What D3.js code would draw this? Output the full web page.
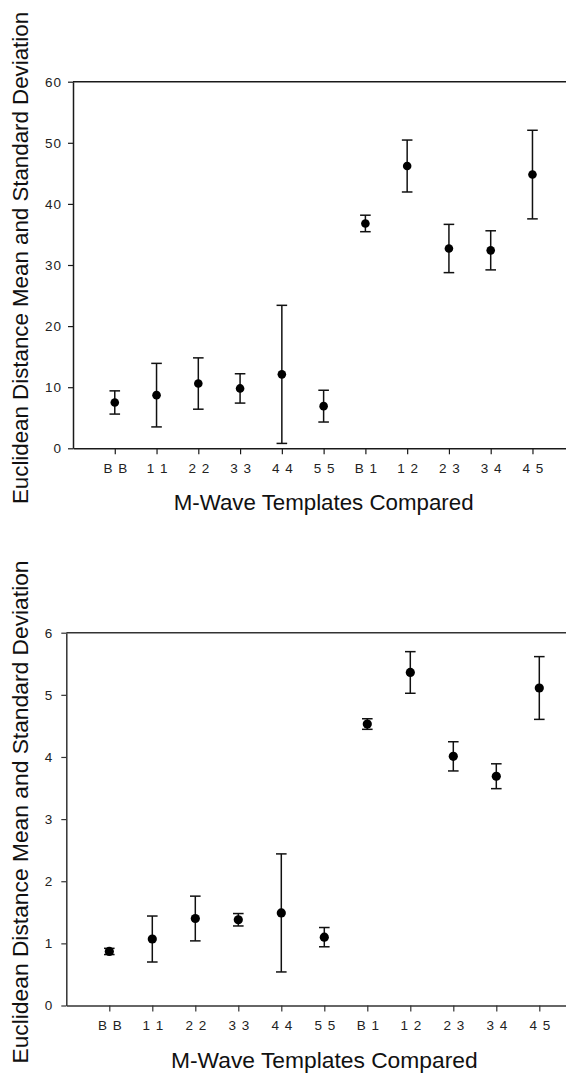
<!DOCTYPE html>
<html>
<head>
<meta charset="utf-8">
<script src="https://cdn.jsdelivr.net/npm/d3@7"></script>
<style>
  html, body { margin: 0; padding: 0; background: #fff; }
  svg { display: block; }
  text { font-family: Arial, "Liberation Sans", sans-serif; }
</style>
</head>
<body>
<svg id="chart" width="566" height="1074"></svg>
<script>
// ---- data ----
const categories = ["B B", "1 1", "2 2", "3 3", "4 4", "5 5", "B 1", "1 2", "2 3", "3 4", "4 5"];
const topMeans = [7.5, 8.7, 10.6, 9.8, 12.1, 6.9, 36.8, 46.2, 32.7, 32.4, 44.8];
const topSD = [1.9, 5.2, 4.2, 2.4, 11.3, 2.6, 1.35, 4.25, 3.95, 3.2, 7.25];
const bottomMeans = [0.87, 1.07, 1.40, 1.38, 1.49, 1.10, 4.53, 5.36, 4.01, 3.69, 5.11];
const bottomSD = [0.05, 0.37, 0.36, 0.10, 0.95, 0.155, 0.085, 0.335, 0.235, 0.20, 0.505];
const topTicks = [0, 10, 20, 30, 40, 50, 60];
const bottomTicks = [0, 1, 2, 3, 4, 5, 6];
const yTitle = "Euclidean Distance Mean and Standard Deviation";
const xTitle = "M-Wave Templates Compared";

const svg = d3.select("#chart");

function panel(opts) {
  const g = svg.append("g");
  const x = d3.scaleLinear().domain([-1, categories.length]).range([opts.x0, opts.x0 + (categories.length + 1) * opts.step]);
  const y = d3.scaleLinear().domain([0, opts.ymax]).range([opts.yBottom, opts.yTop]);
  const stroke = opts.color;

  // top frame line
  g.append("line")
    .attr("x1", x(-1)).attr("x2", x(categories.length))
    .attr("y1", y(opts.ymax)).attr("y2", y(opts.ymax))
    .attr("stroke", stroke).attr("stroke-width", 1.5);

  // y axis
  const ya = g.append("g").attr("transform", `translate(${x(-1)},0)`)
    .call(d3.axisLeft(y).tickValues(opts.ticks).tickSize(5).tickSizeOuter(0).tickPadding(opts.yPad).tickFormat(d3.format("d")));
  ya.select(".domain").attr("stroke", stroke).attr("stroke-width", 1.5);
  ya.selectAll(".tick line").attr("stroke", stroke).attr("stroke-width", 1.2);
  ya.selectAll(".tick text").attr("fill", "#222").style("font-size", opts.tickFont + "px").style("letter-spacing", "1px");

  // x axis
  const xa = g.append("g").attr("transform", `translate(0,${y(0)})`)
    .call(d3.axisBottom(x).tickValues(d3.range(categories.length)).tickSize(6).tickSizeOuter(0).tickPadding(opts.xPad).tickFormat(i => categories[i]));
  xa.select(".domain").attr("stroke", stroke).attr("stroke-width", 1.5);
  xa.selectAll(".tick line").attr("stroke", stroke).attr("stroke-width", 1.2);
  xa.selectAll(".tick text").attr("fill", "#222").attr("dx", "0.5px").style("font-size", opts.tickFont + "px").style("letter-spacing", "1px");

  // error bars
  const data = opts.means.map((m, i) => ({ i, m, sd: opts.sds[i] }));
  const eb = g.append("g").attr("stroke", "#111").attr("stroke-width", 1.5).attr("fill", "none");
  eb.selectAll("line.v").data(data).join("line").attr("class", "v")
    .attr("x1", d => x(d.i)).attr("x2", d => x(d.i))
    .attr("y1", d => y(d.m - d.sd)).attr("y2", d => y(d.m + d.sd));
  eb.selectAll("line.t").data(data).join("line").attr("class", "t")
    .attr("x1", d => x(d.i) - opts.cap).attr("x2", d => x(d.i) + opts.cap)
    .attr("y1", d => y(d.m + d.sd)).attr("y2", d => y(d.m + d.sd));
  eb.selectAll("line.b").data(data).join("line").attr("class", "b")
    .attr("x1", d => x(d.i) - opts.cap).attr("x2", d => x(d.i) + opts.cap)
    .attr("y1", d => y(d.m - d.sd)).attr("y2", d => y(d.m - d.sd));

  // points
  g.append("g").selectAll("circle").data(data).join("circle")
    .attr("cx", d => x(d.i)).attr("cy", d => y(d.m)).attr("r", opts.r).attr("fill", "#000");

  // y title
  g.append("text")
    .attr("transform", `translate(${opts.yTitleX},${opts.yTitleY}) rotate(-90)`)
    .attr("text-anchor", "middle")
    .attr("fill", "#111")
    .style("font-size", opts.titleFont + "px")
    .text(yTitle);

  // x title
  g.append("text")
    .attr("x", x(5)).attr("y", opts.xTitleY)
    .attr("text-anchor", "middle")
    .attr("fill", "#111")
    .style("font-size", opts.titleFont + "px")
    .text(xTitle);
}

panel({
  x0: 73, step: 41.77, yTop: 81.7, yBottom: 448.3, ymax: 60, ticks: topTicks,
  means: topMeans, sds: topSD, color: "#1a1a1a", r: 4.3, cap: 5.3,
  tickFont: 13.5, yPad: 6, xPad: 9, titleFont: 22.3,
  yTitleX: 28, yTitleY: 258, xTitleY: 510
});

panel({
  x0: 66.3, step: 43.0, yTop: 632.7, yBottom: 1005.5, ymax: 6, ticks: bottomTicks,
  means: bottomMeans, sds: bottomSD, color: "#333", r: 4.6, cap: 5.3,
  tickFont: 13.5, yPad: 8, xPad: 9, titleFont: 22.8,
  yTitleX: 28, yTitleY: 812, xTitleY: 1068
});
</script>
</body>
</html>
